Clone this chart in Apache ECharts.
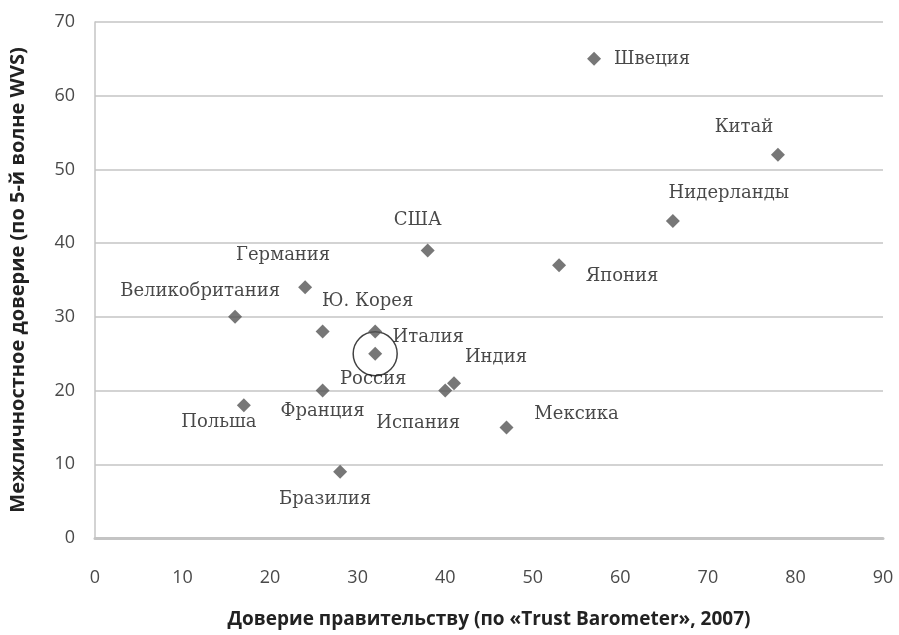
<!DOCTYPE html>
<html>
<head>
<meta charset="utf-8">
<script src="https://cdn.jsdelivr.net/npm/echarts@6/dist/echarts.min.js"></script>
<style>
  html, body { margin: 0; padding: 0; background: #fff; }
  #chart { width: 899px; height: 635px; }
</style>
</head>
<body>
<div id="chart"></div>
<script>
// страны и значения (x — доверие правительству, y — межличностное доверие)
const countries = [
  "Швеция", "Китай", "Нидерланды", "США", "Япония", "Германия",
  "Великобритания", "Ю. Корея", "Италия", "Россия", "Индия",
  "Испания", "Франция", "Польша", "Мексика", "Бразилия"
];
const trustGov = [57, 78, 66, 38, 53, 24, 16, 26, 32, 32, 41, 40, 26, 17, 47, 28];
const trustPeople = [65, 52, 43, 39, 37, 34, 30, 28, 28, 25, 21, 20, 20, 18, 15, 9];
const highlighted = ["Россия"];

const xTicks = [0, 10, 20, 30, 40, 50, 60, 70, 80, 90];
const yTicks = [0, 10, 20, 30, 40, 50, 60, 70];

// сдвиг подписи относительно точки, px
const labelOffsets = {
  "Швеция": [58, 0],
  "Китай": [-34, -27],
  "Нидерланды": [56, -28],
  "США": [-10, -30],
  "Япония": [63, 11],
  "Германия": [-22, -32],
  "Великобритания": [-35, -26],
  "Ю. Корея": [45, -30],
  "Италия": [53, 6],
  "Россия": [-2, 26],
  "Индия": [42, -26],
  "Испания": [-27, 33],
  "Франция": [0, 21],
  "Польша": [-25, 17],
  "Мексика": [70, -13],
  "Бразилия": [-15, 28]
};

const points = countries.map((name, i) => ({
  name: name,
  value: [trustGov[i], trustPeople[i]],
  label: { offset: labelOffsets[name] }
}));
const circled = highlighted.map(name => {
  const i = countries.indexOf(name);
  return [trustGov[i], trustPeople[i]];
});

const tickFont = { fontFamily: "Open Sans", fontSize: 18, color: "#4a4a4a" };
const nameFont = { fontFamily: "Open Sans", fontWeight: "bold", fontSize: 19, color: "#222" };

const option = {
  animation: false,
  grid: { left: 95, right: 16, top: 22, bottom: 97, outerBoundsMode: "none" },
  xAxis: {
    type: "value",
    min: xTicks[0],
    max: xTicks[xTicks.length - 1],
    interval: 10,
    name: "Доверие правительству (по «Trust Barometer», 2007)",
    nameLocation: "middle",
    nameGap: 72,
    nameTextStyle: nameFont,
    axisLine: { show: true, lineStyle: { color: "#c4c4c4", width: 3 } },
    axisTick: { show: false },
    splitLine: { show: false },
    axisLabel: Object.assign({ margin: 31 }, tickFont)
  },
  yAxis: {
    type: "value",
    min: yTicks[0],
    max: yTicks[yTicks.length - 1],
    interval: 10,
    name: "Межличностное доверие (по 5-й волне WVS)",
    nameLocation: "middle",
    nameGap: 67,
    nameTextStyle: Object.assign({}, nameFont, { fontSize: 20 }),
    axisLine: { show: true, lineStyle: { color: "#c4c4c4", width: 1.5 } },
    axisTick: { show: false },
    splitLine: { show: true, lineStyle: { color: "#c4c4c4", width: 1.5 } },
    axisLabel: Object.assign({ margin: 20 }, tickFont)
  },
  series: [
    {
      type: "scatter",
      symbol: "diamond",
      symbolSize: 14,
      itemStyle: { color: "#555" },
      label: {
        show: true,
        position: "inside",
        formatter: p => p.name,
        fontFamily: "DejaVu Serif",
        fontSize: 18,
        color: "#1a1a1a"
      },
      data: points,
      z: 3
    },
    {
      type: "scatter",
      symbol: "circle",
      symbolSize: 44,
      itemStyle: { color: "transparent", borderColor: "#111", borderWidth: 1.5 },
      data: circled,
      z: 2,
      silent: true
    }
  ]
};

const myChart = echarts.init(document.getElementById("chart"));
myChart.setOption(option);
</script>
</body>
</html>
